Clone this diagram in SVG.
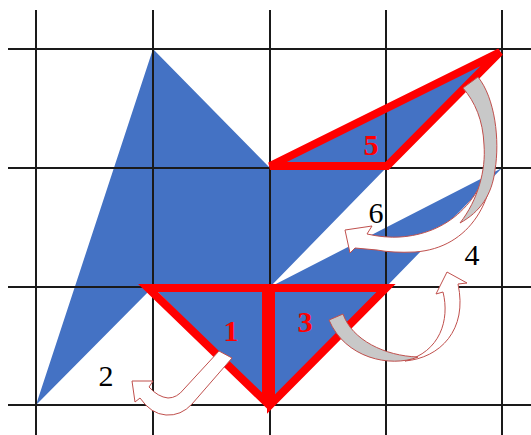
<svg xmlns="http://www.w3.org/2000/svg" width="531" height="435" viewBox="0 0 531 435">
<style>
.grid line{stroke:#1a1a1a;stroke-width:2}
.tri{fill:none;stroke:#FF0000;stroke-width:8;stroke-linejoin:miter}
.lblr{font-family:"Liberation Serif",serif;font-size:30px;font-weight:bold;fill:#FF0000;text-anchor:middle}
.lblk{font-family:"Liberation Serif",serif;font-size:30px;fill:#000;text-anchor:middle}
.arr{stroke:#C0504D;stroke-width:1;fill:#FFFFFF}
.back{stroke:#C0504D;stroke-width:1;fill:#C8C8C8}
</style>
<rect width="531" height="435" fill="#FFFFFF"/>
<g id="figure">
<polygon points="36,405 153,49 270,168 502,49 386,168 270,287 502,168 386,287 270,405 153,287" fill="#4472C4"/>
</g>
<g class="grid" id="grid">
<line x1="36" y1="10" x2="36" y2="435"/>
<line x1="153" y1="10" x2="153" y2="435"/>
<line x1="270" y1="10" x2="270" y2="435"/>
<line x1="386" y1="10" x2="386" y2="435"/>
<line x1="502" y1="10" x2="502" y2="435"/>
<line x1="8" y1="49" x2="531" y2="49"/>
<line x1="8" y1="168" x2="531" y2="168"/>
<line x1="8" y1="287" x2="531" y2="287"/>
<line x1="8" y1="405" x2="531" y2="405"/>
</g>
<g id="piece1">
<polygon class="tri" points="148,288 266,288 266,402"/>
<text class="lblr" x="231" y="341">1</text>
</g>
<g id="piece3">
<polygon class="tri" points="271,288 386,288 271,404"/>
<text class="lblr" x="305" y="332">3</text>
</g>
<g id="piece5">
<polygon class="tri" points="270,166 500,52 387,166"/>
<text class="lblr" x="371" y="155">5</text>
</g>
<g id="connectors">
<path class="arr" d="M219,351 L232,358 L192,404 Q181,416 166,415 Q151,414 140,398 L135,402 L132,381 L153,381 L149,387 Q158,397 168,398 Q177,398 184,389 Z"/>
<path class="arr" d="M405,361 C440,358 468,330 458,284 L467,283 L447,272 L436,294 L443,292 C450,320 440,352 405,361 Z"/>
<path class="back" d="M329,320 L343,314 C352,340 385,356 418,357 C390,368 345,358 329,320 Z"/>
<path class="arr" d="M494,140 C498,200 470,248 415,252 Q392,253 377,250 L355,248 L350,253 L345,230 L372,226 L367,234 Q385,238 400,237 C445,234 485,205 494,140 Z"/>
<path class="back" d="M463,88 L478,77 C495,98 500,140 495,170 C492,195 480,212 460,223 C478,200 486,170 484,145 C483,120 475,102 463,88 Z"/>
</g>
<g id="labels">
<text class="lblk" x="106" y="386">2</text>
<text class="lblk" x="472" y="265">4</text>
<text class="lblk" x="376" y="223">6</text>
</g>
</svg>
